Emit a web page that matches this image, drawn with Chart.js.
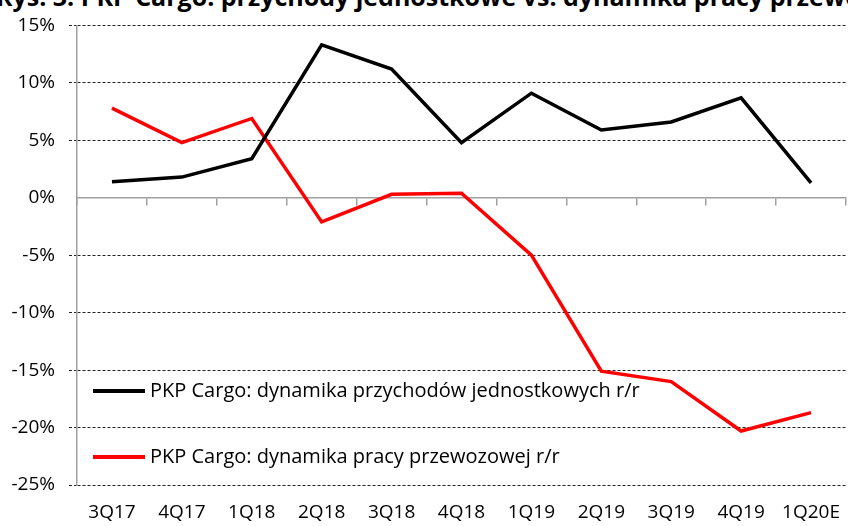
<!DOCTYPE html>
<html>
<head>
<meta charset="utf-8">
<script src="https://cdn.jsdelivr.net/npm/chart.js@4"></script>
<style>
  html, body { margin: 0; padding: 0; background: #fff; overflow: hidden; }
  body { width: 848px; height: 526px; position: relative; font-family: "Open Sans", sans-serif; }
  #title { position: absolute; left: -4px; top: -21px; white-space: nowrap; font-weight: bold; font-size: 25px; color: #000; }
  #wrap { position: absolute; left: 0; top: 0; width: 856px; height: 526px; }
  .leg { position: absolute; left: 93px; font-size: 20px; color: #000; white-space: nowrap; }
  .leg span.sw { display: inline-block; width: 52px; height: 4px; vertical-align: middle; margin-right: 5px; position: relative; top: -1px; }
</style>
</head>
<body>
<div id="title">Rys. 3: PKP Cargo: przychody jednostkowe vs. dynamika pracy przewozowej r/r</div>
<div id="wrap"><canvas id="chart"></canvas></div>
<div class="leg" style="top:376px"><span class="sw" style="background:#000"></span>PKP Cargo: dynamika przychodów jednostkowych r/r</div>
<div class="leg" style="top:442px"><span class="sw" style="background:#ff0000"></span>PKP Cargo: dynamika pracy przewozowej r/r</div>
<script>
// dane z wykresu (w %)
const categories = ['3Q17', '4Q17', '1Q18', '2Q18', '3Q18', '4Q18', '1Q19', '2Q19', '3Q19', '4Q19', '1Q20E'];
const revenueLabel = 'PKP Cargo: dynamika przychodów jednostkowych r/r';
const revenueValues = [1.4, 1.8, 3.4, 13.3, 11.2, 4.8, 9.1, 5.9, 6.6, 8.7, 1.3];
const workLabel = 'PKP Cargo: dynamika pracy przewozowej r/r';
const workValues = [7.8, 4.8, 6.9, -2.1, 0.3, 0.4, -5.0, -15.1, -16.0, -20.3, -18.7];
const yTicks = [15, 10, 5, 0, -5, -10, -15, -20, -25];

const font = { family: '"Open Sans", sans-serif', size: 19 };

const ctx = document.getElementById('chart').getContext('2d');
new Chart(ctx, {
    type: 'line',
    data: {
        labels: categories,
        datasets: [{
            label: revenueLabel,
            data: revenueValues,
            borderColor: '#000000',
            borderWidth: 3.5,
            pointRadius: 0,
            tension: 0,
            xAxisID: 'x'
        }, {
            label: workLabel,
            data: workValues,
            borderColor: '#ff0000',
            borderWidth: 3.5,
            pointRadius: 0,
            tension: 0,
            xAxisID: 'x'
        }]
    },
    options: {
        responsive: true,
        maintainAspectRatio: false,
        animation: false,
        layout: { padding: { top: 23, right: 0, left: 0, bottom: 0 } },
        plugins: {
            legend: { display: false },
            tooltip: { enabled: false }
        },
        scales: {
            // os na poziomie 0% z kreskami
            x: {
                type: 'category',
                position: { y: 0 },
                offset: true,
                grid: {
                    offset: true,
                    drawOnChartArea: false,
                    drawTicks: true,
                    tickLength: 7,
                    color: '#a0a0a0',
                    lineWidth: 1.5
                },
                border: { color: '#a0a0a0', width: 1.5 },
                ticks: { display: false }
            },
            // etykiety kwartalow na dole
            x2: {
                type: 'category',
                labels: categories,
                position: 'bottom',
                offset: true,
                grid: { display: false, drawTicks: false },
                border: { display: false },
                ticks: { font: font, color: '#000', padding: 16, maxRotation: 0, autoSkip: false },
                afterFit: scale => { scale.height = 41; }
            },
            y: {
                min: -25,
                max: 15,
                afterBuildTicks: scale => { scale.ticks = yTicks.map(v => ({ value: v })); },
                afterFit: scale => { scale.width = 77; },
                grid: {
                    color: c => (c.tick && c.tick.value === 0) ? 'rgba(0,0,0,0)' : '#222',
                    lineWidth: 1,
                    tickLength: 8,
                    tickBorderDash: [3, 2]
                },
                border: { color: '#a0a0a0', width: 1.5, dash: [3, 2] },
                ticks: {
                    font: font,
                    color: '#000',
                    padding: 14,
                    callback: v => v + '%'
                }
            }
        }
    }
});
</script>
</body>
</html>
